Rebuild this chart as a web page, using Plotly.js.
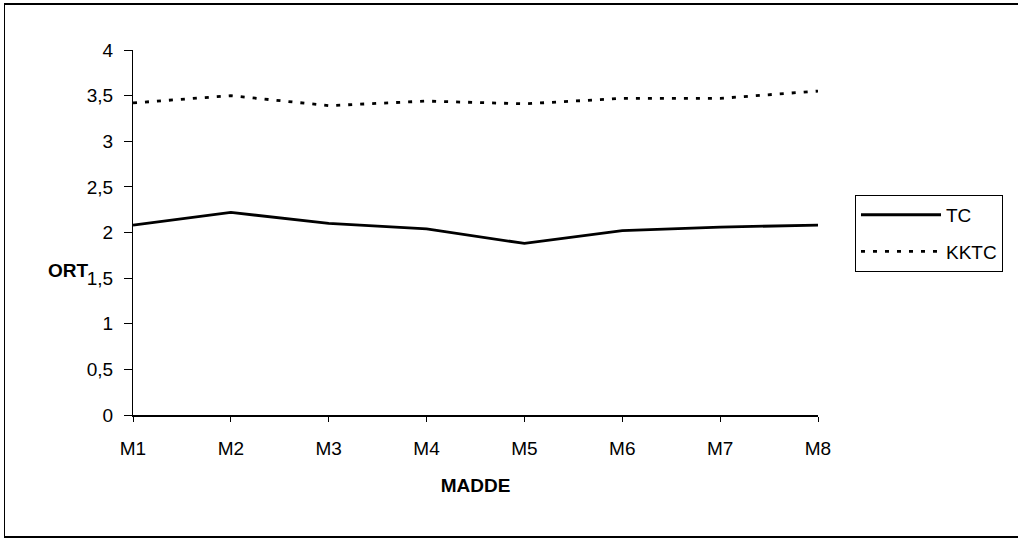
<!DOCTYPE html>
<html>
<head>
<meta charset="utf-8">
<script src="https://cdn.plot.ly/plotly-3.0.1.min.js"></script>
<style>
html,body{margin:0;padding:0;background:#fff;}
#wrap{position:relative;width:1019px;height:539px;}
#chart{width:1019px;height:539px;}
#frame{position:absolute;left:4px;top:3px;width:1014px;height:535px;border:1px solid #000;border-right:none;border-top-width:2px;border-bottom-width:2px;pointer-events:none;box-sizing:border-box;}
</style>
</head>
<body>
<div id="wrap"><div id="chart"></div><div id="frame"></div></div>
<script>
const categories = ["M1","M2","M3","M4","M5","M6","M7","M8"];
const tcValues   = [2.08, 2.22, 2.10, 2.04, 1.88, 2.02, 2.06, 2.08];
const kktcValues = [3.42, 3.50, 3.39, 3.44, 3.41, 3.47, 3.47, 3.55];
const yTickVals  = [0, 0.5, 1, 1.5, 2, 2.5, 3, 3.5, 4];
const yTickText  = ["0", "0,5", "1", "1,5", "2", "2,5", "3", "3,5", "4"];

const font = {family: "Liberation Sans, Arial, sans-serif", size: 19, color: "#000"};

const traces = [
  {x: categories, y: tcValues, name: "TC", type: "scatter", mode: "lines",
   legendgroup: "a", line: {color: "#000", width: 2.8}},
  {x: categories, y: kktcValues, name: "KKTC", type: "scatter", mode: "lines",
   legendgroup: "b", line: {color: "#000", width: 2.8, dash: "4px,8px"}}
];

const layout = {
  width: 1019, height: 539,
  margin: {l: 133, r: 201, t: 50, b: 124},
  paper_bgcolor: "#fff", plot_bgcolor: "#fff",
  font: font,
  showlegend: true,
  legend: {x: 1.054, y: 0.603, xanchor: "left", yanchor: "top",
    bordercolor: "#000", borderwidth: 1, font: font, itemwidth: 80,
    tracegroupgap: 9},
  xaxis: {type: "category", range: [0, 7], showgrid: false, zeroline: false,
    showline: true, linecolor: "#000", linewidth: 1.5,
    ticks: "outside", ticklen: 5, tickcolor: "#000",
    tickfont: font, ticklabelstandoff: 11,
    title: {text: "<b>MADDE</b>", font: font, standoff: 20}},
  yaxis: {range: [0, 4], showgrid: false, zeroline: false,
    showline: true, linecolor: "#000", linewidth: 1,
    ticks: "outside", ticklen: 8, tickcolor: "#000",
    ticklabelstandoff: 7,
    tickvals: yTickVals, ticktext: yTickText, tickfont: font},
  annotations: [{text: "<b>ORT</b>", xref: "paper", yref: "paper",
    x: (46 - 133) / 685, y: (415 - 270) / 365, xanchor: "left", yanchor: "middle",
    showarrow: false, font: font}]
};

Plotly.newPlot("chart", traces, layout, {displayModeBar: false, staticPlot: true});
</script>
</body>
</html>
